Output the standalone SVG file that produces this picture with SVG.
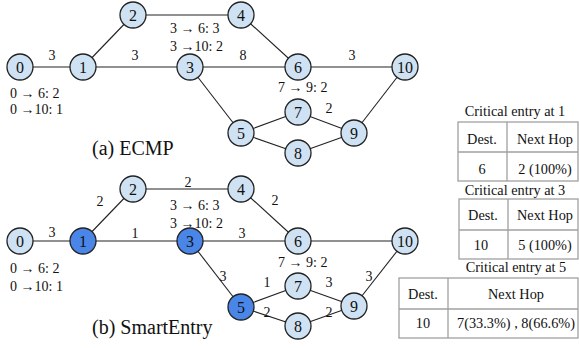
<svg xmlns="http://www.w3.org/2000/svg" width="579" height="348" viewBox="0 0 579 348">
<style>
text{font-family:"Liberation Serif","Times New Roman",serif;fill:#111}
.n circle{fill:#cfe2f3;stroke:#222;stroke-width:1.3}
.n.d circle{fill:#4a86e8}
.n text{font-size:16px;text-anchor:middle}
.e line{stroke:#222;stroke-width:1.1}
.l{font-size:14px;text-anchor:middle}
.a{font-size:14px}
.cap{font-size:20px}
.t rect,.t line{fill:none;stroke:#a0a0a0;stroke-width:1.3}
.t text{font-size:14.3px;text-anchor:middle}
</style>
<g id="connectors-a" class="e">
<line x1="20" y1="67" x2="83" y2="67"/>
<line x1="83" y1="67" x2="133" y2="15"/>
<line x1="133" y1="15" x2="241" y2="15"/>
<line x1="83" y1="67" x2="190" y2="67"/>
<line x1="241" y1="15" x2="298" y2="67"/>
<line x1="190" y1="67" x2="298" y2="67"/>
<line x1="190" y1="67" x2="241" y2="133"/>
<line x1="298" y1="67" x2="405" y2="67"/>
<line x1="241" y1="133" x2="298" y2="112"/>
<line x1="241" y1="133" x2="298" y2="153"/>
<line x1="298" y1="112" x2="354" y2="133"/>
<line x1="298" y1="153" x2="354" y2="133"/>
<line x1="354" y1="133" x2="405" y2="67"/>
</g>
<g id="connectors-b" class="e">
<line x1="20" y1="241" x2="83" y2="241"/>
<line x1="83" y1="241" x2="133" y2="189"/>
<line x1="133" y1="189" x2="241" y2="189"/>
<line x1="83" y1="241" x2="190" y2="241"/>
<line x1="241" y1="189" x2="298" y2="241"/>
<line x1="190" y1="241" x2="298" y2="241"/>
<line x1="190" y1="241" x2="241" y2="307"/>
<line x1="298" y1="241" x2="405" y2="241"/>
<line x1="241" y1="307" x2="298" y2="286"/>
<line x1="241" y1="307" x2="298" y2="326"/>
<line x1="298" y1="286" x2="354" y2="306"/>
<line x1="298" y1="326" x2="354" y2="306"/>
<line x1="354" y1="306" x2="405" y2="241"/>
</g>
<g id="nodes-a">
<g id="a0" class="n"><circle cx="20" cy="67" r="13"/><text x="20" y="72.5">0</text></g>
<g id="a1" class="n"><circle cx="83" cy="67" r="13"/><text x="83" y="72.5">1</text></g>
<g id="a2" class="n"><circle cx="133" cy="15" r="13"/><text x="133" y="20.5">2</text></g>
<g id="a3" class="n"><circle cx="190" cy="67" r="13"/><text x="190" y="72.5">3</text></g>
<g id="a4" class="n"><circle cx="241" cy="15" r="13"/><text x="241" y="20.5">4</text></g>
<g id="a5" class="n"><circle cx="241" cy="133" r="13"/><text x="241" y="138.5">5</text></g>
<g id="a6" class="n"><circle cx="298" cy="67" r="13"/><text x="298" y="72.5">6</text></g>
<g id="a7" class="n"><circle cx="298" cy="112" r="13"/><text x="298" y="117.5">7</text></g>
<g id="a8" class="n"><circle cx="298" cy="153" r="13"/><text x="298" y="158.5">8</text></g>
<g id="a9" class="n"><circle cx="354" cy="133" r="13"/><text x="354" y="138.5">9</text></g>
<g id="a10" class="n"><circle cx="405" cy="67" r="13"/><text x="405" y="72.5">10</text></g>
</g>
<g id="nodes-b">
<g id="b0" class="n"><circle cx="20" cy="241" r="13"/><text x="20" y="246.5">0</text></g>
<g id="b1" class="n d"><circle cx="83" cy="241" r="13"/><text x="83" y="246.5">1</text></g>
<g id="b2" class="n"><circle cx="133" cy="189" r="13"/><text x="133" y="194.5">2</text></g>
<g id="b3" class="n d"><circle cx="190" cy="241" r="13"/><text x="190" y="246.5">3</text></g>
<g id="b4" class="n"><circle cx="241" cy="189" r="13"/><text x="241" y="194.5">4</text></g>
<g id="b5" class="n d"><circle cx="241" cy="307" r="13"/><text x="241" y="312.5">5</text></g>
<g id="b6" class="n"><circle cx="298" cy="241" r="13"/><text x="298" y="246.5">6</text></g>
<g id="b7" class="n"><circle cx="298" cy="286" r="13"/><text x="298" y="291.5">7</text></g>
<g id="b8" class="n"><circle cx="298" cy="326" r="13"/><text x="298" y="331.5">8</text></g>
<g id="b9" class="n"><circle cx="354" cy="306" r="13"/><text x="354" y="311.5">9</text></g>
<g id="b10" class="n"><circle cx="405" cy="241" r="13"/><text x="405" y="246.5">10</text></g>
</g>
<g id="labels-a">
<text class="l" x="52" y="60">3</text>
<text class="l" x="135" y="60">3</text>
<text class="l" x="243" y="60">8</text>
<text class="l" x="352" y="60">3</text>
<text class="l" x="329" y="113">2</text>
<text class="a" x="170" y="33">3 → 6: 3</text>
<text class="a" x="170" y="51">3 →10: 2</text>
<text class="a" x="10" y="98">0 → 6: 2</text>
<text class="a" x="10" y="114">0 →10: 1</text>
<text class="a" x="278" y="92">7 → 9: 2</text>
<text class="cap" x="92" y="155">(a) ECMP</text>
</g>
<g id="labels-b">
<text class="l" x="52" y="237">3</text>
<text class="l" x="100" y="206">2</text>
<text class="l" x="188" y="187">2</text>
<text class="l" x="275" y="205">2</text>
<text class="l" x="135" y="238">1</text>
<text class="l" x="242" y="238">3</text>
<text class="l" x="223" y="281">3</text>
<text class="l" x="267" y="287">1</text>
<text class="l" x="267" y="317">2</text>
<text class="l" x="329" y="287">3</text>
<text class="l" x="329" y="317">2</text>
<text class="l" x="369" y="281">3</text>
<text class="a" x="170" y="210">3 → 6: 3</text>
<text class="a" x="170" y="228">3 →10: 2</text>
<text class="a" x="10" y="273">0 → 6: 2</text>
<text class="a" x="10" y="291">0 →10: 1</text>
<text class="a" x="278" y="267">7 → 9: 2</text>
<text class="cap" x="92" y="334">(b) SmartEntry</text>
</g>
<g id="table1" class="t">
<text x="515" y="116">Critical entry at 1</text>
<rect x="458" y="122" width="120" height="59"/>
<line x1="458" y1="152" x2="578" y2="152"/>
<line x1="507" y1="122" x2="507" y2="181"/>
<text x="482" y="144">Dest.</text>
<text x="545" y="144">Next Hop</text>
<text x="482" y="174">6</text>
<text x="545" y="174">2 (100%)</text>
</g>
<g id="table2" class="t">
<text x="515" y="195">Critical entry at 3</text>
<rect x="459" y="199" width="119" height="60"/>
<line x1="459" y1="230" x2="578" y2="230"/>
<line x1="508" y1="199" x2="508" y2="259"/>
<text x="483" y="220">Dest.</text>
<text x="545" y="220">Next Hop</text>
<text x="481" y="250">10</text>
<text x="545" y="250">5 (100%)</text>
</g>
<g id="table3" class="t">
<text x="516" y="272">Critical entry at 5</text>
<rect x="399" y="278" width="179" height="60"/>
<line x1="399" y1="309" x2="578" y2="309"/>
<line x1="448" y1="278" x2="448" y2="338"/>
<text x="423" y="299">Dest.</text>
<text x="516" y="299">Next Hop</text>
<text x="423" y="328">10</text>
<text x="516" y="328">7(33.3%) , 8(66.6%)</text>
</g>
</svg>
